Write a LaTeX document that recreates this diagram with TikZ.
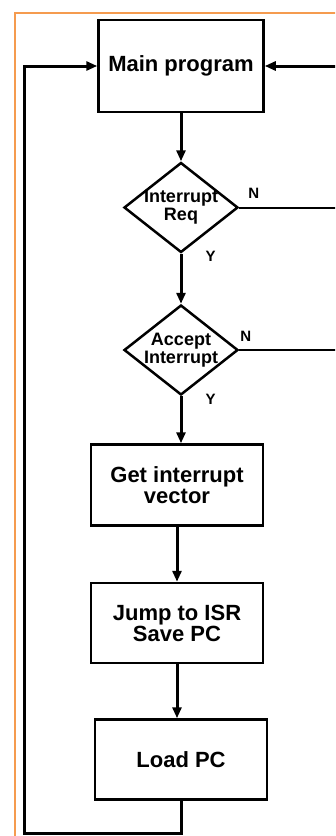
\documentclass[tikz,border=0pt]{standalone}
\usepackage{fontspec}
\setmainfont{Liberation Sans}
\usepackage{xcolor}
\definecolor{frameorange}{HTML}{F59B4F}
\usetikzlibrary{
  positioning,
  arrows.meta,
  shapes.geometric
}
\begin{document}
\begin{tikzpicture}[
  x=1pt, y=-1pt,
  >={Triangle[length=11pt,width=9pt]},
  node distance=48pt,
  box/.style={
    rectangle, minimum width=172pt, minimum height=80pt,
    align=center, font=\fontsize{22}{21}\selectfont\bfseries,
    draw, line width=2.5pt, fill=white
  },
  decision/.style={
    diamond, aspect=1.27, inner sep=-3pt, minimum width=114pt, minimum height=90pt,
    align=center, font=\fontsize{18}{18}\selectfont\bfseries,
    draw, line width=2.5pt, fill=white
  },
  flow/.style={line width=3pt},
  branch/.style={line width=2pt},
  lbl/.style={font=\fontsize{15}{15}\selectfont\bfseries, inner sep=0pt}
]
\useasboundingbox (0,0) rectangle (335,836);
\clip (0,0) rectangle (335,836);
\draw[frameorange, line width=1.5pt] (15,13) rectangle (400,900);

\node[box, minimum width=165pt, minimum height=92pt] (main) at (181,66) {Main program};
\node[decision, below=of main] (req) {Interrupt\\Req};
\node[decision, below=50pt of req] (accept) {Accept\\Interrupt};
\node[box, minimum height=81pt, below=47pt of accept, xshift=-4pt] (vector) {Get interrupt\\vector};
\node[box, below=55pt of vector] (jump) {Jump to ISR\\Save PC};
\node[box, below=54pt of jump, xshift=4pt] (load) {Load PC};

\coordinate (rt) at (345,0);
\coordinate (bl) at (24,833);

\draw[flow, ->] (main) -- (req);
\draw[flow, ->] (req) -- node[lbl, pos=0.06, anchor=west, xshift=23pt] {Y} (accept);
\draw[flow, ->] (accept.south) -- node[lbl, pos=0.06, anchor=west, xshift=23pt] {Y}
  (accept.south |- vector.north);
\draw[flow, ->] (vector) -- (jump);
\draw[flow, ->] (jump.south) -- (jump.south |- load.north);
\draw[branch] (req.east) -- node[lbl, pos=0, anchor=south west, xshift=8pt, yshift=8pt] {N}
  (req.east -| rt);
\draw[branch] (accept.east) -- node[lbl, pos=0, anchor=south west, yshift=8pt] {N}
  (accept.east -| rt);
\draw[flow, ->] (accept.east -| rt) |- (main.east);
\draw[flow, ->] (load.south) |- (bl) |- (main.west);

\end{tikzpicture}
\end{document}
